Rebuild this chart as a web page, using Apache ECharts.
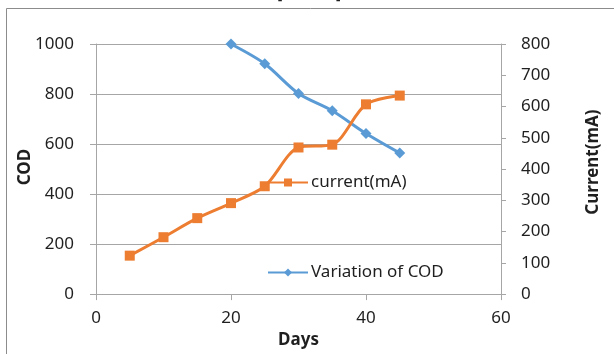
<!DOCTYPE html>
<html>
<head>
<meta charset="utf-8">
<script src="https://cdn.jsdelivr.net/npm/echarts@6/dist/echarts.min.js"></script>
<style>
  html, body { margin: 0; padding: 0; background: #fff; }
  #chart { width: 614px; height: 354px; }
</style>
</head>
<body>
<div id="chart"></div>
<script>
// Days on which each quantity was measured
const codDays = [20, 25, 30, 35, 40, 45];
const codValues = [1000, 921, 802, 733, 642, 564];

const currentDays = [5, 10, 15, 20, 25, 30, 35, 40, 45];
const currentValues = [123, 182, 243, 291, 345, 469, 478, 607, 635];

const xTicks = [0, 20, 40, 60];
const codTicks = [0, 200, 400, 600, 800, 1000];
const currentTicks = [0, 100, 200, 300, 400, 500, 600, 700, 800];

const FONT = '"Noto Sans", "Open Sans", sans-serif';
const SIZE = 17;
const TEXT = '#1F1F1F';
const GRAY = '#A6A6A6';
const BLUE = '#5B9BD5';
const ORANGE = '#ED7D31';

const pairs = (xs, ys) => xs.map((x, i) => [x, ys[i]]);
const plain = v => String(v);

const chart = echarts.init(document.getElementById('chart'), null, { renderer: 'canvas' });

chart.setOption({
  animation: false,
  backgroundColor: '#fff',
  textStyle: { fontFamily: FONT },
  grid: { left: 96, right: 113, top: 44, bottom: 44, containLabel: false },
  graphic: [
    {
      type: 'rect', silent: true,
      shape: { x: 6.5, y: 8.5, width: 800, height: 500 },
      style: { fill: 'none', stroke: '#8C8C8C', lineWidth: 1 }
    },
    { type: 'text', left: 277, top: -14, style: { text: '[', font: '16px ' + FONT, fill: TEXT } },
    { type: 'text', left: 336, top: -14, style: { text: ']', font: '16px ' + FONT, fill: TEXT } }
  ],
  xAxis: {
    type: 'value',
    min: xTicks[0], max: xTicks[xTicks.length - 1], interval: 20,
    name: 'Days', nameLocation: 'middle', nameGap: 24,
    nameTextStyle: { fontFamily: FONT, fontSize: SIZE, fontWeight: 'bold', color: TEXT },
    axisLine: { show: true, lineStyle: { color: GRAY, width: 1 } },
    axisTick: { show: true, length: 6, lineStyle: { color: GRAY } },
    axisLabel: { fontFamily: FONT, fontSize: SIZE, color: TEXT, margin: 16, formatter: plain },
    splitLine: { show: false }
  },
  yAxis: [
    {
      type: 'value', position: 'left',
      min: codTicks[0], max: codTicks[codTicks.length - 1], interval: 200,
      name: 'COD', nameLocation: 'middle', nameGap: 62, nameRotate: 90,
      nameMoveOverlap: false,
      nameTextStyle: { fontFamily: FONT, fontSize: SIZE, fontWeight: 'bold', color: TEXT, padding: [0, 0, 0, 4] },
      axisLine: { show: true, lineStyle: { color: GRAY, width: 1 } },
      axisTick: { show: true, length: 6, lineStyle: { color: GRAY } },
      axisLabel: { fontFamily: FONT, fontSize: SIZE, color: TEXT, margin: 22, formatter: plain },
      splitLine: { show: true, lineStyle: { color: GRAY, width: 1 } }
    },
    {
      type: 'value', position: 'right',
      min: currentTicks[0], max: currentTicks[currentTicks.length - 1], interval: 100,
      name: 'Current(mA)', nameLocation: 'middle', nameGap: 84, nameRotate: 90,
      nameTextStyle: { fontFamily: FONT, fontSize: SIZE, fontWeight: 'bold', color: TEXT, padding: [0, 0, 0, 14] },
      axisLine: { show: true, lineStyle: { color: GRAY, width: 1 } },
      axisTick: { show: true, length: 5, lineStyle: { color: GRAY } },
      axisLabel: { fontFamily: FONT, fontSize: SIZE, color: TEXT, margin: 20, formatter: plain },
      splitLine: { show: false }
    }
  ],
  legend: [
    {
      data: ['current(mA)'], left: 262, top: 169,
      itemWidth: 40, itemHeight: 10, itemGap: 6,
      textStyle: { fontFamily: FONT, fontSize: SIZE, color: TEXT, padding: [0, 0, 0, -2] }
    },
    {
      data: ['Variation of COD'], left: 262, top: 259,
      itemWidth: 40, itemHeight: 10, itemGap: 6,
      textStyle: { fontFamily: FONT, fontSize: SIZE, color: TEXT, padding: [0, 0, 0, -2] }
    }
  ],
  series: [
    {
      name: 'Variation of COD', type: 'line', yAxisIndex: 0,
      data: pairs(codDays, codValues),
      smooth: 0.3,
      symbol: 'diamond', symbolSize: 11,
      itemStyle: { color: BLUE },
      lineStyle: { color: BLUE, width: 3 }
    },
    {
      name: 'current(mA)', type: 'line', yAxisIndex: 1,
      data: pairs(currentDays, currentValues),
      smooth: 0.3,
      symbol: 'rect', symbolSize: 10,
      itemStyle: { color: ORANGE },
      lineStyle: { color: ORANGE, width: 3 }
    }
  ]
});
</script>
</body>
</html>
